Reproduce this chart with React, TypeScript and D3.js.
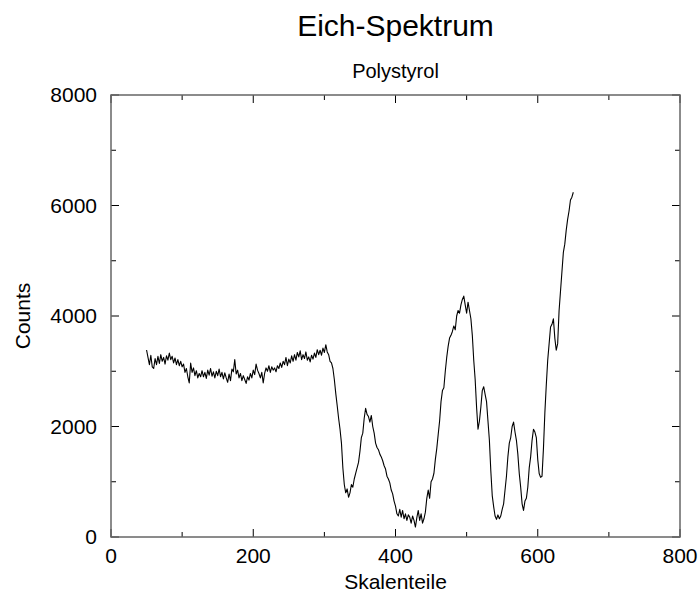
import * as d3 from "d3";

// Kalibrierspektrum Polystyrol: [Skalenteil, Counts]
const spectrum: [number, number][] = [
  [50, 3385], [52, 3250], [54, 3120], [56, 3290], [58, 3080], [60, 3050], [62, 3230], [64, 3120],
  [66, 3270], [68, 3140], [70, 3300], [72, 3180], [74, 3250], [76, 3130], [78, 3280], [80, 3200],
  [82, 3330], [84, 3210], [86, 3270], [88, 3150], [90, 3240], [92, 3120], [94, 3210], [96, 3100],
  [98, 3180], [100, 3080], [102, 3130], [104, 2980], [106, 3050], [108, 2900], [110, 2790], [112, 3150],
  [114, 2980], [116, 3060], [118, 2920], [120, 3010], [122, 2880], [124, 2960], [126, 2900], [128, 3010],
  [130, 2900], [132, 2980], [134, 2870], [136, 3020], [138, 2930], [140, 3050], [142, 2910], [144, 2990],
  [146, 2880], [148, 3000], [150, 2920], [152, 3040], [154, 2900], [156, 2980], [158, 2860], [160, 2970],
  [162, 2880], [164, 2800], [166, 2950], [168, 2830], [170, 3040], [172, 2990], [174, 3210], [176, 2950],
  [178, 3020], [180, 2880], [182, 2960], [184, 2830], [186, 2920], [188, 2850], [190, 2780], [192, 2900],
  [194, 2840], [196, 2960], [198, 2880], [200, 3020], [202, 2940], [204, 3130], [206, 3020], [208, 2960],
  [210, 2880], [212, 2980], [214, 2790], [216, 2960], [218, 3060], [220, 3000], [222, 3100], [224, 2980],
  [226, 3080], [228, 3020], [230, 3060], [232, 2990], [234, 3100], [236, 3050], [238, 3150], [240, 3070],
  [242, 3180], [244, 3120], [246, 3250], [248, 3100], [250, 3220], [252, 3150], [254, 3280], [256, 3180],
  [258, 3300], [260, 3200], [262, 3340], [264, 3260], [266, 3370], [268, 3210], [270, 3300], [272, 3230],
  [274, 3350], [276, 3200], [278, 3260], [280, 3170], [282, 3290], [284, 3220], [286, 3330], [288, 3250],
  [290, 3390], [292, 3300], [294, 3380], [296, 3290], [298, 3420], [300, 3340], [302, 3480], [304, 3350],
  [306, 3300], [308, 3180], [310, 3150], [312, 3050], [314, 2850], [316, 2600], [318, 2380], [320, 2150],
  [322, 1950], [324, 1700], [326, 1250], [328, 950], [330, 800], [332, 870], [334, 720], [336, 800],
  [338, 950], [340, 900], [342, 1050], [344, 1150], [346, 1250], [348, 1350], [350, 1550], [352, 1800],
  [354, 1880], [356, 2150], [358, 2330], [360, 2220], [362, 2180], [364, 2080], [366, 2200], [368, 2000],
  [370, 1880], [372, 1700], [374, 1620], [376, 1580], [378, 1500], [380, 1450], [382, 1380], [384, 1290],
  [386, 1230], [388, 1100], [390, 1050], [392, 980], [394, 850], [396, 780], [398, 650], [400, 560],
  [402, 420], [404, 380], [406, 500], [408, 360], [410, 480], [412, 330], [414, 420], [416, 300],
  [418, 400], [420, 360], [422, 250], [424, 380], [426, 300], [428, 180], [430, 350], [432, 480],
  [434, 300], [436, 420], [438, 250], [440, 330], [442, 450], [444, 700], [446, 850], [448, 700],
  [450, 1000], [452, 1050], [454, 1150], [456, 1400], [458, 1600], [460, 1850], [462, 2100], [464, 2450],
  [466, 2650], [468, 2700], [470, 3000], [472, 3250], [474, 3450], [476, 3600], [478, 3650], [480, 3720],
  [482, 3820], [484, 3750], [486, 4000], [488, 4100], [490, 4050], [492, 4200], [494, 4300], [496, 4360],
  [498, 4200], [500, 4050], [502, 4250], [504, 4100], [506, 3950], [508, 3650], [510, 3200], [512, 2850],
  [514, 2350], [516, 1950], [518, 2100], [520, 2350], [522, 2650], [524, 2720], [526, 2580], [528, 2450],
  [530, 2100], [532, 1750], [534, 1200], [536, 750], [538, 550], [540, 380], [542, 320], [544, 400],
  [546, 330], [548, 380], [550, 500], [552, 600], [554, 850], [556, 1100], [558, 1450], [560, 1700],
  [562, 1800], [564, 2000], [566, 2080], [568, 1900], [570, 1750], [572, 1500], [574, 1150], [576, 900],
  [578, 600], [580, 480], [582, 650], [584, 700], [586, 900], [588, 1250], [590, 1450], [592, 1750],
  [594, 1950], [596, 1900], [598, 1800], [600, 1400], [602, 1150], [604, 1080], [606, 1100], [608, 1600],
  [610, 2250], [612, 2750], [614, 3200], [616, 3500], [618, 3800], [620, 3850], [622, 3950], [624, 3600],
  [626, 3380], [628, 3500], [630, 4100], [632, 4450], [634, 4800], [636, 5150], [638, 5300], [640, 5550],
  [642, 5750], [644, 5900], [646, 6100], [648, 6150], [650, 6240],
];

const xTicks = [0, 200, 400, 600, 800];
const xMinorTicks = [100, 300, 500, 700];
const yTicks = [0, 2000, 4000, 6000, 8000];
const yMinorTicks = [1000, 3000, 5000, 7000];

const title = "Eich-Spektrum";
const subtitle = "Polystyrol";
const xLabel = "Skalenteile";
const yLabel = "Counts";

export default function App() {
  const width = 699, height = 594;
  const margin = { top: 95, right: 19, bottom: 57, left: 111 };
  const innerW = width - margin.left - margin.right;
  const innerH = height - margin.top - margin.bottom;

  const x = d3.scaleLinear().domain([0, 800]).range([0, innerW]);
  const y = d3.scaleLinear().domain([0, 8000]).range([innerH, 0]);

  const line = d3
    .line<[number, number]>()
    .x((d) => x(d[0]))
    .y((d) => y(d[1]));

  const font = "'Liberation Sans', Arial, Helvetica, sans-serif";
  const major = 8, minor = 5;

  return (
    <svg
      width={width}
      height={height}
      style={{ position: "absolute", left: 0, top: 0, background: "#fff" }}
      fontFamily={font}
    >
      <text x={margin.left + innerW / 2} y={36} textAnchor="middle" fontSize={30}>
        {title}
      </text>
      <text x={margin.left + innerW / 2} y={78} textAnchor="middle" fontSize={20}>
        {subtitle}
      </text>
      <text
        transform={`translate(30,${margin.top + innerH / 2}) rotate(-90)`}
        textAnchor="middle"
        fontSize={21}
      >
        {yLabel}
      </text>
      <text x={margin.left + innerW / 2} y={589} textAnchor="middle" fontSize={21}>
        {xLabel}
      </text>

      <g transform={`translate(${margin.left},${margin.top})`}>
        {/* ticks, all pointing inwards on every side */}
        <g stroke="#000" strokeWidth={1}>
          {xTicks.map((t) => (
            <g key={"xt" + t}>
              <line x1={x(t)} x2={x(t)} y1={innerH} y2={innerH - major} />
              <line x1={x(t)} x2={x(t)} y1={0} y2={major} />
            </g>
          ))}
          {xMinorTicks.map((t) => (
            <g key={"xm" + t}>
              <line x1={x(t)} x2={x(t)} y1={innerH} y2={innerH - minor} />
              <line x1={x(t)} x2={x(t)} y1={0} y2={minor} />
            </g>
          ))}
          {yTicks.map((t) => (
            <g key={"yt" + t}>
              <line x1={0} x2={major} y1={y(t)} y2={y(t)} />
              <line x1={innerW} x2={innerW - major} y1={y(t)} y2={y(t)} />
            </g>
          ))}
          {yMinorTicks.map((t) => (
            <g key={"ym" + t}>
              <line x1={0} x2={minor} y1={y(t)} y2={y(t)} />
              <line x1={innerW} x2={innerW - minor} y1={y(t)} y2={y(t)} />
            </g>
          ))}
        </g>

        <rect x={0} y={0} width={innerW} height={innerH} fill="none" stroke="#666" strokeWidth={1.5} />

        {xTicks.map((t) => (
          <text key={"xl" + t} x={x(t)} y={innerH + 25.5} textAnchor="middle" fontSize={21}>
            {t}
          </text>
        ))}
        {yTicks.map((t) => (
          <text key={"yl" + t} x={-14} y={y(t) + 7} textAnchor="end" fontSize={21}>
            {t}
          </text>
        ))}

        <path d={line(spectrum) ?? ""} fill="none" stroke="#000" strokeWidth={1.1} strokeLinejoin="round" />
      </g>
    </svg>
  );
}
